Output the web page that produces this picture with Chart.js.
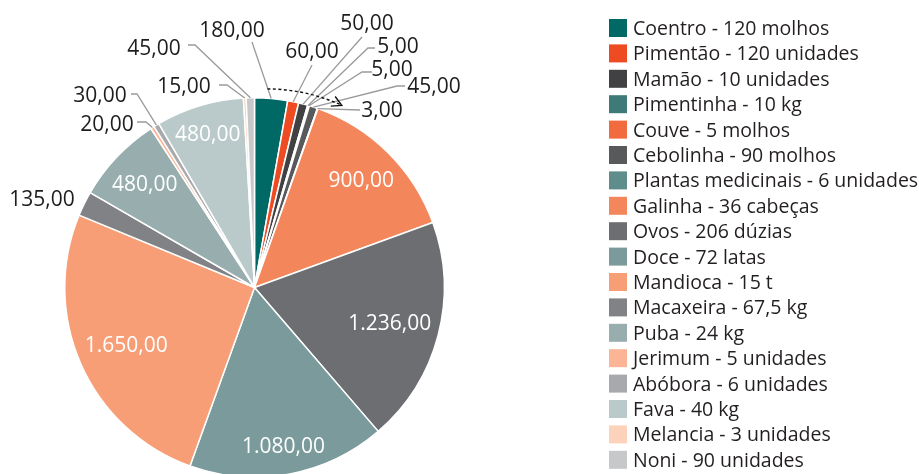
<!DOCTYPE html>
<html><head><meta charset="utf-8">
<script src="https://cdn.jsdelivr.net/npm/chart.js@4.4.0/dist/chart.umd.min.js"></script>
<style>
html,body{margin:0;padding:0;background:#fff;overflow:hidden;width:919px;height:474px}
#wrap{position:absolute;left:0;top:0;width:919px;height:500px}
</style></head>
<body><div id="wrap"><canvas id="c" width="919" height="500"></canvas></div>
<script>
const categories = [
  "Coentro - 120 molhos","Pimentão - 120 unidades","Mamão - 10 unidades","Pimentinha - 10 kg",
  "Couve - 5 molhos","Cebolinha - 90 molhos","Plantas medicinais - 6 unidades","Galinha - 36 cabeças",
  "Ovos - 206 dúzias","Doce - 72 latas","Mandioca - 15 t","Macaxeira - 67,5 kg","Puba - 24 kg",
  "Jerimum - 5 unidades","Abóbora - 6 unidades","Fava - 40 kg","Melancia - 3 unidades","Noni - 90 unidades"
];
const values = [180,60,50,5,5,45,3,900,1236,1080,1650,135,480,20,30,480,15,45];
const colors = [
  "#006966","#ef4b23","#414042","#3e7a78","#f26b3e","#58595b","#5e8d8b","#f4865b","#6d6e71",
  "#7a9a9b","#f89e76","#808285","#97adae","#fbb596","#a7a9ac","#bac9c9","#fdd2bb","#c7c8ca"
];

// layout of outside (callout) labels, relative to pie centre: text centre, line end, optional elbow
const callouts = {
  0:{t:[-22.5,-258.5],e:[-2.5,-245.5]},
  1:{t:[57.5,-237.5],e:[57.5,-222.5]},
  2:{t:[112.5,-265.5],e:[107.5,-250.5]},
  3:{t:[143.5,-242.5],e:[120.5,-239.5],k:[113.5,-239.5]},
  4:{t:[137.5,-219.5],e:[117.5,-215.5],k:[107.5,-215.5]},
  5:{t:[179.5,-202.5],e:[150.5,-201.5],k:[142.5,-201.5]},
  6:{t:[127.5,-178.5],e:[105.5,-177.5]},
  11:{t:[-212.5,-89.5]},
  13:{t:[-147.5,-164.5],e:[-117.5,-165.5],k:[-108.5,-165.5]},
  14:{t:[-154.5,-193.5],e:[-123.5,-193.5],k:[-117.5,-193.5]},
  16:{t:[-70.5,-202.5],e:[-35.5,-202.5],k:[-27.5,-202.5]},
  17:{t:[-100.5,-240.5],e:[-66.5,-242.5],k:[-59.5,-242.5]}
};

const FONT = "'Open Sans', 'Noto Sans', sans-serif";
function fmt(v){
  const s = v.toFixed(2).split('.');
  return s[0].replace(/\B(?=(\d{3})+(?!\d))/g,'.') + ',' + s[1];
}

const labelPlugin = {
  id:'pieLabels',
  afterDatasetsDraw(chart){
    const ctx = chart.ctx;
    const meta = chart.getDatasetMeta(0);
    const total = values.reduce((a,b)=>a+b,0);
    let cx=0, cy=0, R=0;
    ctx.save();
    ctx.font = "21px " + FONT;
    meta.data.forEach((arc,i)=>{
      const p = arc.getProps(['x','y','startAngle','endAngle','outerRadius'],true);
      cx=p.x; cy=p.y; R=p.outerRadius;
      const mid=(p.startAngle+p.endAngle)/2;
      const ux=Math.cos(mid), uy=Math.sin(mid);
      const txt = fmt(values[i]);
      const w = ctx.measureText(txt).width;
      if(values[i]/total > 0.05){
        const h=20, m=7;
        let r=R;
        for(; r>0; r-=0.5){
          const x=cx+r*ux, y=cy+r*uy;
          let ok=true;
          for(const sx of [-1,1]) for(const sy of [-1,1]){
            const dx=x+sx*w/2-cx, dy=y+sy*h/2-cy;
            if(Math.hypot(dx,dy)>R-m) ok=false;
          }
          if(ok) break;
        }
        ctx.fillStyle="#ffffff";
        ctx.textAlign="center"; ctx.textBaseline="alphabetic";
        ctx.fillText(txt, cx+r*ux, cy+r*uy+7.5);
      } else {
        const c = callouts[i];
        if(!c) return;
        if(c.e){
          ctx.strokeStyle="#9a9a9a"; ctx.lineWidth=1.3;
          ctx.beginPath();
          ctx.moveTo(cx+R*ux, cy+R*uy);
          if(c.k) ctx.lineTo(cx+c.k[0], cy+c.k[1]);
          ctx.lineTo(cx+c.e[0], cy+c.e[1]);
          ctx.stroke();
        }
        ctx.fillStyle="#1d1d1b";
        ctx.textAlign="center"; ctx.textBaseline="alphabetic";
        ctx.fillText(txt, cx+c.t[0], cy+c.t[1]+7.5);
      }
    });
    // dotted arrow over the small slices
    const P=(deg,r)=>{const a=deg*Math.PI/180;return [cx+r*Math.sin(a), cy-r*Math.cos(a)];};
    const s=P(3.7,199), e=P(25.6,202), k=P(14.6,205);
    ctx.strokeStyle="#111"; ctx.lineWidth=1.4; ctx.setLineDash([3,2.5]);
    ctx.beginPath(); ctx.moveTo(s[0],s[1]); ctx.quadraticCurveTo(k[0],k[1],e[0],e[1]); ctx.stroke();
    ctx.setLineDash([]);
    const ang=Math.atan2(e[1]-k[1], e[0]-k[0]);
    const L=11, sp=0.5;
    ctx.beginPath();
    ctx.moveTo(e[0]-L*Math.cos(ang-sp), e[1]-L*Math.sin(ang-sp));
    ctx.lineTo(e[0],e[1]);
    ctx.lineTo(e[0]-L*Math.cos(ang+sp), e[1]-L*Math.sin(ang+sp));
    ctx.stroke();
    ctx.restore();
  },
  afterDraw(chart){
    const ctx=chart.ctx;
    ctx.save();
    ctx.font="19.5px " + FONT;
    ctx.textAlign="left"; ctx.textBaseline="alphabetic";
    categories.forEach((lab,i)=>{
      const y=28+25.4*i;
      ctx.fillStyle=colors[i];
      ctx.fillRect(609, y-9, 18, 18);
      ctx.fillStyle="#231f20";
      ctx.fillText(lab, 633, y+7);
    });
    ctx.restore();
  }
};

new Chart(document.getElementById('c'), {
  type:'pie',
  data:{ labels:categories, datasets:[{ data:values, backgroundColor:colors, borderColor:'#ffffff', borderWidth:1.5 }]},
  options:{
    responsive:false, animation:false, devicePixelRatio:1,
    layout:{ padding:{ left:64, top:97, right:474, bottom:22 } },
    plugins:{ legend:{display:false}, tooltip:{enabled:false} },
    events:[]
  },
  plugins:[labelPlugin]
});
</script>
</body></html>
